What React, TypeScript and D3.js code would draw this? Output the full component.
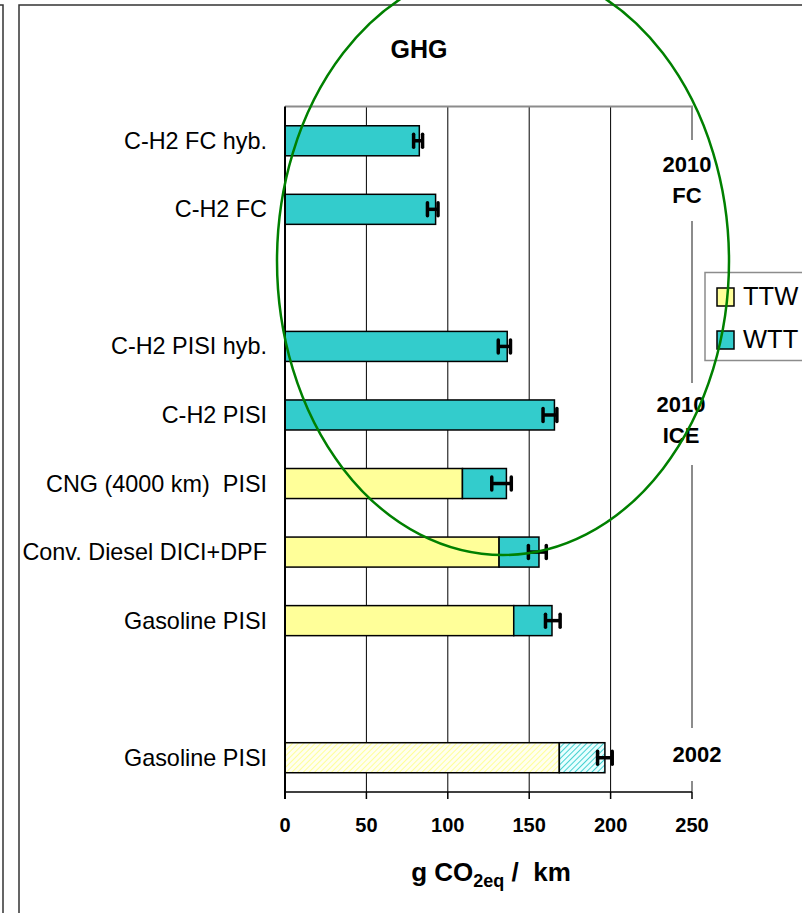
import React from "react";
import * as d3 from "d3";

const categories = [
  "C-H2 FC hyb.",
  "C-H2 FC",
  "",
  "C-H2 PISI hyb.",
  "C-H2 PISI",
  "CNG (4000 km)  PISI",
  "Conv. Diesel DICI+DPF",
  "Gasoline PISI",
  "",
  "Gasoline PISI",
];
const ttwValues = [0, 0, null, 0, 0, 109, 131.5, 140.5, null, 168.5];
const wttValues = [82.5, 92.5, null, 136.5, 165.5, 27, 24.5, 23.5, null, 28];
const errLow = [79, 87.5, null, 131, 158.5, 127, 149.5, 160, null, 192];
const errHigh = [84.5, 94, null, 138.5, 167, 139, 160.5, 169, null, 201];
const hatchedRows = [false, false, false, false, false, false, false, false, false, true];
const xTicks = [0, 50, 100, 150, 200, 250];
const seriesNames = ["TTW", "WTT"];
const periodLabels = [
  { lines: ["2010", "FC"], row: 0, dy: 31, x: 687, boxTop: 140, boxBottom: 221 },
  { lines: ["2010", "ICE"], row: 4, dy: -3, x: 681, boxTop: 383, boxBottom: 465 },
  { lines: ["2002"], row: 9, dy: 4.6, x: 697, boxTop: 728, boxBottom: 781 },
];

const W = 802;
const H = 913;
const plot = { left: 285, right: 692, top: 106.5, bottom: 792 };
const TTW_COLOR = "#ffff99";
const WTT_COLOR = "#33cccc";
const FONT = "'Liberation Sans', Arial, Helvetica, sans-serif";

export default function App() {
  const x = d3.scaleLinear().domain([0, 250]).range([plot.left, plot.right]);
  const y = d3
    .scaleBand<number>()
    .domain(d3.range(categories.length))
    .range([plot.top, plot.bottom])
    .paddingInner(0.562)
    .paddingOuter(0.281);
  const bh = y.bandwidth();

  return (
    <svg
      width={W}
      height={H}
      style={{ position: "absolute", left: 0, top: 0, display: "block", background: "#fff", whiteSpace: "pre" }}
      fontFamily={FONT}
    >
      <defs>
        <pattern id="hatchY" patternUnits="userSpaceOnUse" width="4" height="4" patternTransform="rotate(45)">
          <rect width="4" height="4" fill="#fffff0" />
          <line x1="0" y1="0" x2="0" y2="4" stroke="#ffff80" strokeWidth="1.6" />
        </pattern>
        <pattern id="hatchC" patternUnits="userSpaceOnUse" width="4" height="4" patternTransform="rotate(45)">
          <rect width="4" height="4" fill="#e8ffff" />
          <line x1="0" y1="0" x2="0" y2="4" stroke={WTT_COLOR} strokeWidth="1.8" />
        </pattern>
      </defs>

      {/* outer frames */}
      <path d={`M0,5 H3 V${H}`} fill="none" stroke="#333" strokeWidth={1.5} />
      <path d={`M19,${H} V5 H${W}`} fill="none" stroke="#333" strokeWidth={1.5} />

      {/* title */}
      <text x={419} y={58} textAnchor="middle" fontSize={25} fontWeight="bold">GHG</text>

      {/* gridlines */}
      {xTicks.slice(1, -1).map((t) => (
        <line key={t} x1={x(t)} x2={x(t)} y1={plot.top} y2={plot.bottom} stroke="#000" strokeWidth={1} />
      ))}

      {/* plot border (top & right) */}
      <path
        d={`M${plot.left},${plot.top} H${plot.right} V${plot.bottom}`}
        fill="none"
        stroke="#8c8c8c"
        strokeWidth={2}
      />

      {/* bars */}
      {categories.map((c, i) => {
        const t = ttwValues[i];
        const w = wttValues[i];
        if (t == null || w == null) return null;
        const y0 = y(i)!;
        const h = hatchedRows[i];
        return (
          <g key={i}>
            {t > 0 && (
              <rect
                x={x(0)}
                y={y0}
                width={x(t) - x(0)}
                height={bh}
                fill={h ? "url(#hatchY)" : TTW_COLOR}
                stroke="#000"
                strokeWidth={1.5}
              />
            )}
            <rect
              x={x(t)}
              y={y0}
              width={x(t + w) - x(t)}
              height={bh}
              fill={h ? "url(#hatchC)" : WTT_COLOR}
              stroke="#000"
              strokeWidth={1.5}
            />
          </g>
        );
      })}

      {/* error bars */}
      {categories.map((c, i) => {
        const lo = errLow[i];
        const hi = errHigh[i];
        if (lo == null || hi == null) return null;
        const cy = y(i)! + bh / 2;
        return (
          <g key={"e" + i} stroke="#000">
            <line x1={x(lo)} x2={x(hi)} y1={cy} y2={cy} strokeWidth={3.5} />
            <line x1={x(lo)} x2={x(lo)} y1={cy - 6.5} y2={cy + 6.5} strokeWidth={3.5} strokeLinecap="round" />
            <line x1={x(hi)} x2={x(hi)} y1={cy - 6.5} y2={cy + 6.5} strokeWidth={3.5} strokeLinecap="round" />
          </g>
        );
      })}

      {/* axes */}
      <line x1={plot.left} x2={plot.left} y1={plot.top} y2={plot.bottom + 7} stroke="#000" strokeWidth={2} />
      <line x1={plot.left} x2={plot.right} y1={plot.bottom} y2={plot.bottom} stroke="#000" strokeWidth={1.5} />
      {xTicks.map((t) => (
        <g key={"t" + t}>
          <line x1={x(t)} x2={x(t)} y1={plot.bottom} y2={plot.bottom + 7} stroke="#000" strokeWidth={1.5} />
          <text x={x(t)} y={832} textAnchor="middle" fontSize={20} fontWeight="bold">
            {t}
          </text>
        </g>
      ))}

      {/* category labels */}
      {categories.map((c, i) =>
        c ? (
          <text key={"l" + i} x={267} y={y(i)! + bh / 2 + 8} textAnchor="end" fontSize={23.4} xmlSpace="preserve">
            {c}
          </text>
        ) : null
      )}

      {/* axis title */}
      <text x={491} y={881} textAnchor="middle" fontSize={26} fontWeight="bold" xmlSpace="preserve">
        g CO
        <tspan fontSize={18} dy={6}>2eq</tspan>
        <tspan dy={-6}>{" /  km"}</tspan>
      </text>

      {/* period labels */}
      {periodLabels.map((p, k) => {
        const base = y(p.row)! + bh / 2 + p.dy;
        return (
          <g key={"p" + k}>
            <rect x={652} y={p.boxTop} width={76} height={p.boxBottom - p.boxTop} fill="#fff" />
            {p.lines.map((ln, j) => (
              <text key={j} x={p.x} y={base + j * 31} textAnchor="middle" fontSize={22} fontWeight="bold">
                {ln}
              </text>
            ))}
          </g>
        );
      })}

      {/* legend */}
      <rect x={705} y={272.5} width={120} height={88} fill="#fff" stroke="#8c8c8c" strokeWidth={1.5} />
      {seriesNames.map((s, i) => (
        <g key={s}>
          <rect
            x={717}
            y={288 + i * 43}
            width={17}
            height={18}
            fill={i === 0 ? TTW_COLOR : WTT_COLOR}
            stroke="#000"
            strokeWidth={1.5}
          />
          <text x={743} y={305 + i * 43} fontSize={25.5}>
            {s}
          </text>
        </g>
      ))}

      {/* green ellipse */}
      <ellipse cx={503} cy={261} rx={226} ry={294} fill="none" stroke="#008000" strokeWidth={2.5} />
    </svg>
  );
}
